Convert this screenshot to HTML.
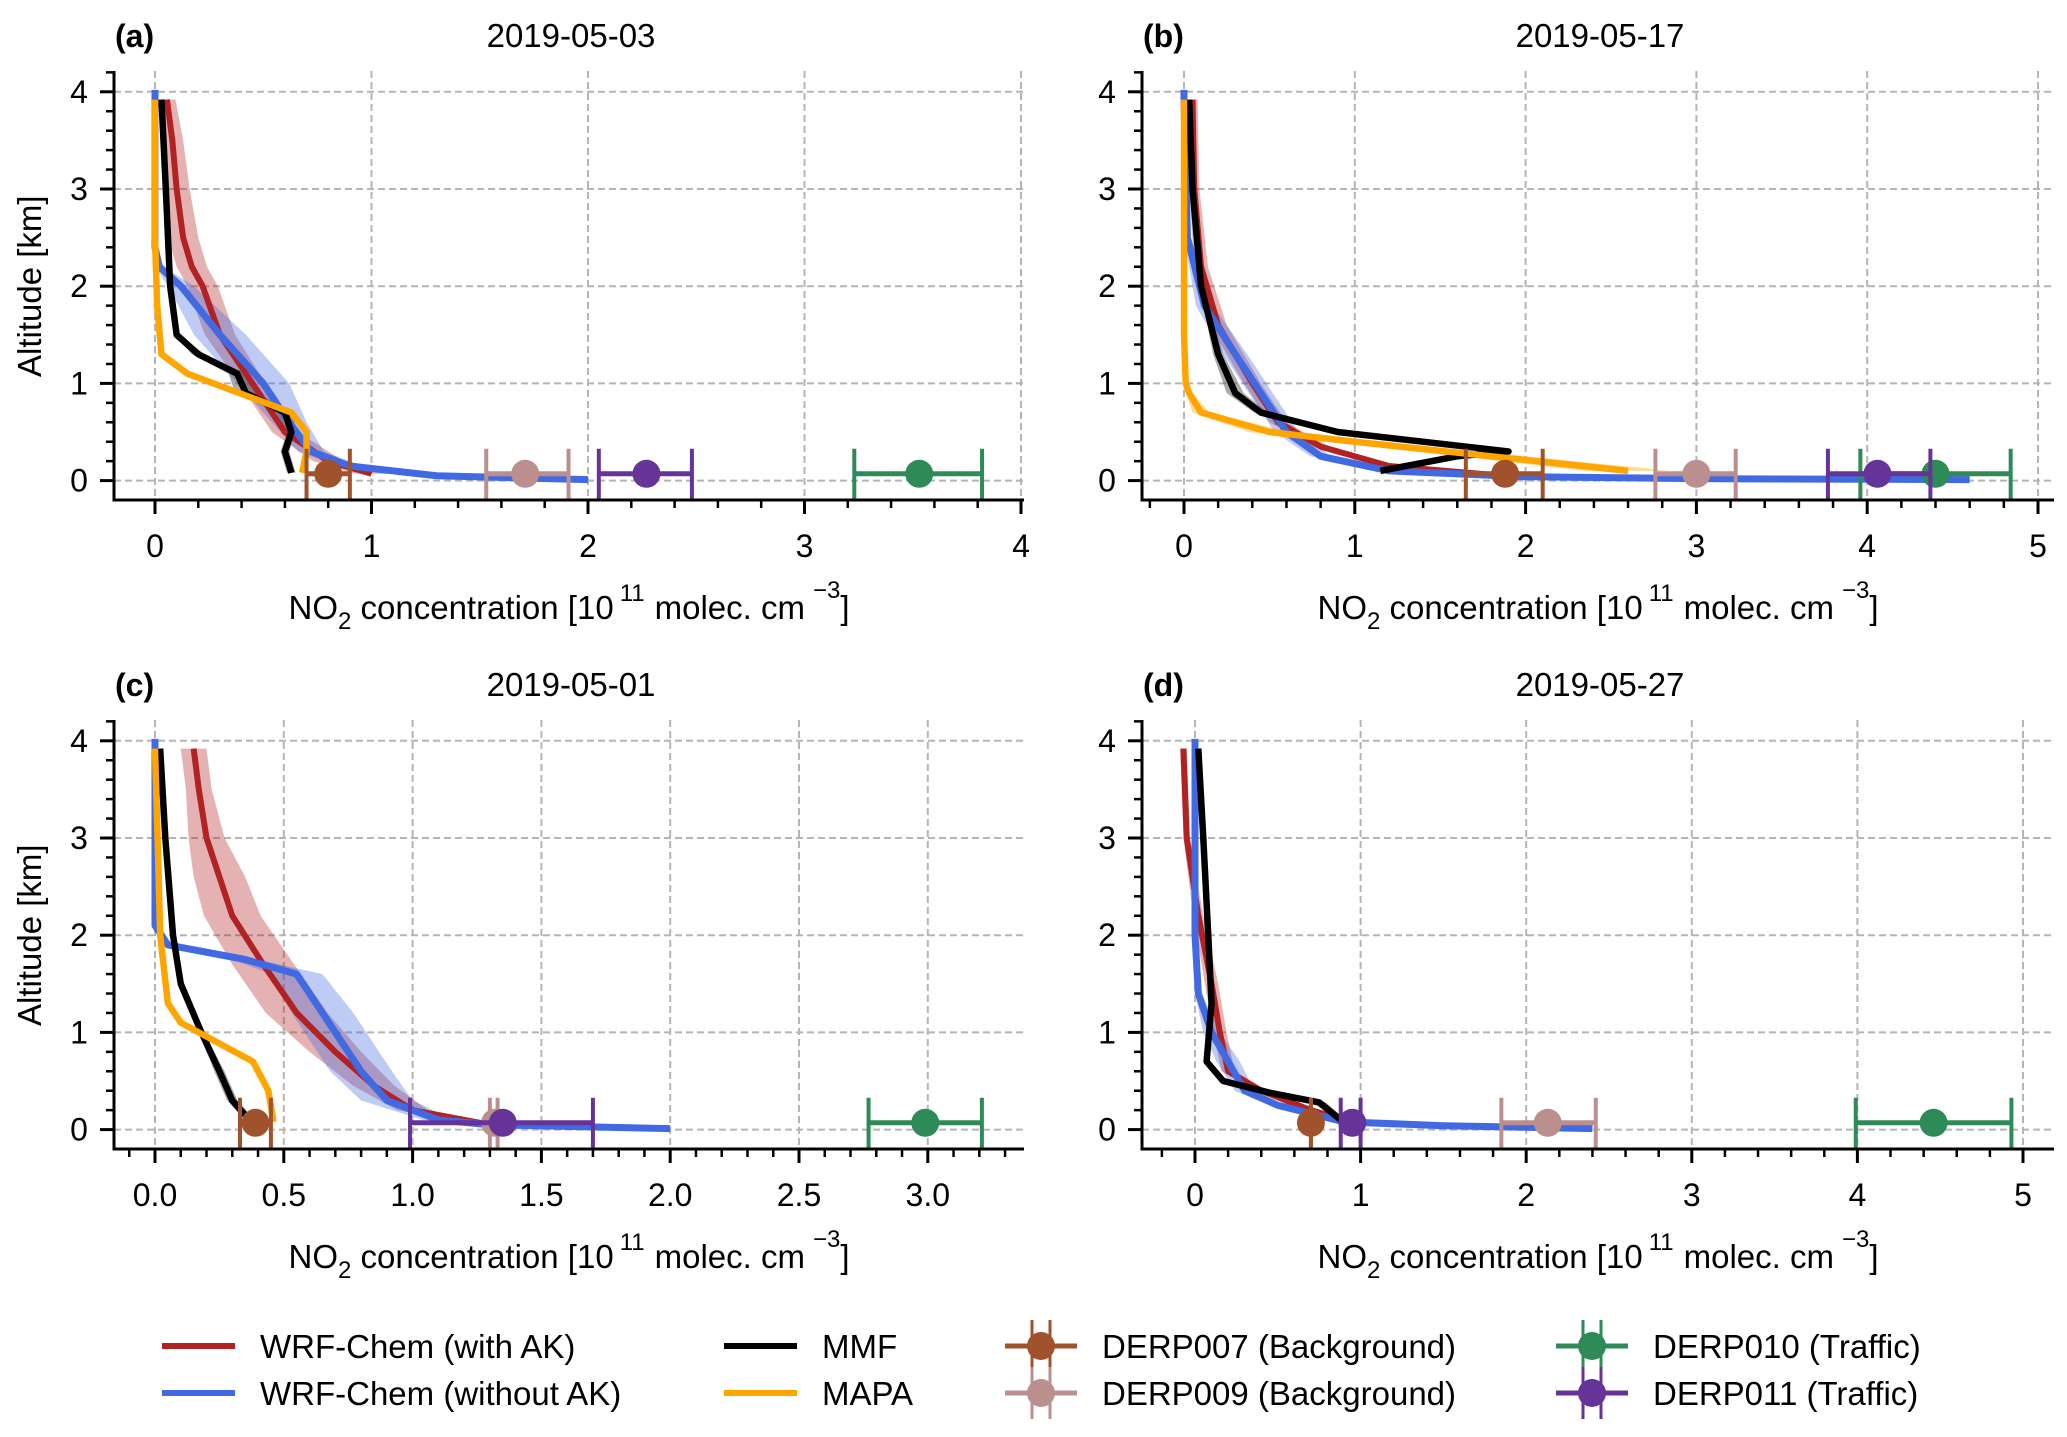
<!DOCTYPE html>
<html><head><meta charset="utf-8"><style>
html,body{margin:0;padding:0;background:#fff}
svg{display:block}
text{font-family:"Liberation Sans",Arial,sans-serif;fill:#000}
</style></head><body>
<svg id="fig" width="2067" height="1437" viewBox="0 0 2067 1437" xmlns="http://www.w3.org/2000/svg"></svg>
<script>
// ---------- data (NO2 in 1e11 molec cm-3, altitude in km) ----------
const stationNames=["DERP007 (Background)","DERP009 (Background)","DERP010 (Traffic)","DERP011 (Traffic)"];
// Panel a 2019-05-03
const aRedX=[0.055,0.08,0.1,0.13,0.17,0.22,0.3,0.45,0.6,0.8,1.0];
const aRedY=[3.92,3.5,3.0,2.5,2.2,2.0,1.5,1.0,0.5,0.2,0.07];
const aRedS=[0.04,0.05,0.06,0.07,0.07,0.07,0.07,0.06,0.06,0.07,0.08];
const aBlueX=[0.0,0.0,0.0,0.02,0.12,0.3,0.5,0.62,0.72,0.9,1.3,2.0];
const aBlueY=[4.02,3.9,2.4,2.2,2.0,1.5,1.0,0.6,0.3,0.15,0.05,0.01];
const aBlueS=[0,0,0,0.02,0.06,0.12,0.12,0.08,0.06,0.06,0.05,0.04];
const aMmfX=[0.03,0.05,0.07,0.1,0.2,0.38,0.42,0.6,0.63,0.6,0.63];
const aMmfY=[3.92,3.0,2.0,1.5,1.3,1.1,0.9,0.7,0.5,0.3,0.08];
const aMmfS=[0,0,0,0.01,0.03,0.04,0.05,0.04,0.02,0.02,0.02];
const aMapaX=[0.0,0.0,0.01,0.03,0.15,0.63,0.7,0.7,0.68];
const aMapaY=[3.92,2.5,1.8,1.3,1.1,0.7,0.5,0.3,0.08];
const aStX=[0.8,1.71,3.53,2.27];
const aStLo=[0.7,1.53,3.23,2.05];
const aStHi=[0.9,1.91,3.82,2.48];
// Panel b 2019-05-17
const bRedX=[0.05,0.06,0.1,0.2,0.4,0.55,0.8,1.2,1.8];
const bRedY=[3.92,3.0,2.2,1.6,1.0,0.6,0.35,0.15,0.06];
const bRedS=[0.03,0.03,0.04,0.05,0.05,0.05,0.05,0.05,0.04];
const bBlueX=[0.0,0.0,0.02,0.12,0.3,0.45,0.6,0.8,1.2,2.0,3.0,4.6];
const bBlueY=[4.02,3.9,2.5,1.8,1.3,0.9,0.5,0.25,0.1,0.04,0.02,0.01];
const bBlueS=[0,0,0.02,0.05,0.07,0.07,0.07,0.06,0.05,0.03,0.02,0.02];
const bMmfX=[0.03,0.05,0.1,0.2,0.3,0.45,0.9,1.9,1.6,1.15];
const bMmfY=[3.92,3.0,2.0,1.3,0.9,0.7,0.5,0.3,0.25,0.1];
const bMmfS=[0,0,0.01,0.03,0.05,0.04,0.03,0.03,0.02,0.02];
const bMapaX=[0.0,0.0,0.01,0.03,0.1,0.5,1.0,1.8,2.6];
const bMapaY=[3.92,1.5,1.0,0.9,0.7,0.5,0.4,0.25,0.1];
const bMapaS=[0,0,0,0.02,0.05,0.12,0.15,0.2,0.25];
const bStX=[1.88,3.0,4.4,4.06];
const bStLo=[1.65,2.76,3.96,3.77];
const bStHi=[2.1,3.23,4.84,4.37];
// Panel c 2019-05-01
const cRedX=[0.15,0.17,0.2,0.25,0.3,0.42,0.55,0.7,0.85,1.0,1.3];
const cRedY=[3.92,3.5,3.0,2.6,2.2,1.7,1.2,0.8,0.45,0.2,0.05];
const cRedS=[0.05,0.05,0.07,0.1,0.11,0.12,0.12,0.1,0.08,0.06,0.03];
const cBlueX=[0.0,0.0,0.0,0.05,0.35,0.55,0.65,0.8,0.9,1.1,1.3,2.0];
const cBlueY=[4.02,3.9,2.1,1.9,1.75,1.6,1.2,0.6,0.3,0.1,0.05,0.01];
const cBlueS=[0,0,0,0.02,0.05,0.1,0.12,0.12,0.1,0.06,0.04,0.03];
const cMmfX=[0.02,0.04,0.07,0.1,0.18,0.25,0.3,0.35];
const cMmfY=[3.92,3.0,2.0,1.5,1.0,0.6,0.3,0.15];
const cMmfS=[0,0,0,0,0.01,0.02,0.02,0.02];
const cMapaX=[0.0,0.01,0.02,0.05,0.1,0.38,0.44,0.46];
const cMapaY=[3.92,3.0,2.0,1.3,1.1,0.7,0.4,0.08];
const cStX=[0.39,1.32,2.99,1.35];
const cStLo=[0.33,1.3,2.77,0.99];
const cStHi=[0.45,1.33,3.21,1.7];
// Panel d 2019-05-27
const dRedX=[-0.07,-0.05,0.02,0.1,0.15,0.2,0.4,0.7,0.9];
const dRedY=[3.92,3.0,2.2,1.5,1.0,0.6,0.4,0.2,0.1];
const dRedS=[0.02,0.02,0.03,0.04,0.04,0.04,0.04,0.04,0.03];
const dBlueX=[0.0,0.0,0.0,0.02,0.1,0.2,0.3,0.5,0.9,1.5,2.4];
const dBlueY=[4.02,3.9,2.0,1.4,1.0,0.7,0.4,0.25,0.08,0.04,0.01];
const dBlueS=[0,0,0,0.02,0.05,0.07,0.06,0.05,0.04,0.03,0.03];
const dMmfX=[0.02,0.05,0.08,0.1,0.07,0.17,0.45,0.75,0.88];
const dMmfY=[3.92,3.0,2.0,1.3,0.7,0.5,0.38,0.28,0.1];
const dMmfS=[0,0,0,0,0,0.01,0.02,0.04,0.03];
const dStX=[0.7,2.13,4.46,0.95];
const dStLo=[0.7,1.85,3.99,0.88];
const dStHi=[0.7,2.42,4.93,1.0];
const xTicksAB=["0","1","2","3","4"];
const xTicksB=["0","1","2","3","4","5"];
const xTicksC=["0.0","0.5","1.0","1.5","2.0","2.5","3.0"];
const yTicks=["0","1","2","3","4"];

// ---------- rendering ----------
const NS="http://www.w3.org/2000/svg";
const svg=document.getElementById('fig');
const RED="#b22222",BLUE="#4169e1",ORANGE="#ffa500";
const stColors=["#a0522d","#bc8f8f","#2e8b57","#663399"];
function el(tag,attrs,parent){const e=document.createElementNS(NS,tag);for(const k in attrs)e.setAttribute(k,attrs[k]);(parent||svg).appendChild(e);return e;}

const panels=[
 {id:"a",title:"2019-05-03",L:114,R:1024,T:71,B:500,x0:155,xs:216.5,xmin:-0.19,xmax:4.02,ticks:xTicksAB,tstep:1,minor:0.2,ylab:true,
  red:[aRedX,aRedY,aRedS],blue:[aBlueX,aBlueY,aBlueS],mmf:[aMmfX,aMmfY,aMmfS],mapa:[aMapaX,aMapaY,null],st:[aStX,aStLo,aStHi]},
 {id:"b",title:"2019-05-17",L:1142,R:2054,T:71,B:500,x0:1184,xs:170.8,xmin:-0.25,xmax:5.09,ticks:xTicksB,tstep:1,minor:0.2,ylab:false,
  red:[bRedX,bRedY,bRedS],blue:[bBlueX,bBlueY,bBlueS],mmf:[bMmfX,bMmfY,bMmfS],mapa:[bMapaX,bMapaY,bMapaS],st:[bStX,bStLo,bStHi]},
 {id:"c",title:"2019-05-01",L:114,R:1024,T:720,B:1149,x0:155,xs:257.6,xmin:-0.16,xmax:3.37,ticks:xTicksC,tstep:0.5,minor:0.1,ylab:true,
  red:[cRedX,cRedY,cRedS],blue:[cBlueX,cBlueY,cBlueS],mmf:[cMmfX,cMmfY,cMmfS],mapa:[cMapaX,cMapaY,null],st:[cStX,cStLo,cStHi]},
 {id:"d",title:"2019-05-27",L:1142,R:2054,T:720,B:1149,x0:1195,xs:165.6,xmin:-0.32,xmax:5.19,ticks:xTicksB,tstep:1,minor:0.2,ylab:false,
  red:[dRedX,dRedY,dRedS],blue:[dBlueX,dBlueY,dBlueS],mmf:[dMmfX,dMmfY,dMmfS],mapa:null,st:[dStX,dStLo,dStHi]}
];

panels.forEach(p=>{
  const y0=p.B-19.4, ys=97.2;
  const X=v=>p.x0+v*p.xs, Y=v=>y0-v*ys;
  const g=el('g',{});
  
  
  const cp=el('clipPath',{id:'clip'+p.id},g);
  el('rect',{x:p.L,y:p.T,width:p.R-p.L,height:p.B-p.T},cp);
  const grid=el('g',{stroke:"#b5b5b5","stroke-width":2,"stroke-dasharray":"7,4"},g);
  
  
  yTicks.forEach(t=>{el('line',{x1:p.L,x2:p.R,y1:Y(+t),y2:Y(+t)},grid);});
  p.ticks.forEach(t=>{el('line',{x1:X(+t),x2:X(+t),y1:p.T,y2:p.B},grid);});
  const plot=el('g',{"clip-path":"url(#clip"+p.id+")"},g);
  
  
  function band(arr,color,op,name){
    const [xs,yv,sp]=arr; if(!sp) return;
    let pts=[];
    for(let i=0;i<xs.length;i++)pts.push(X(xs[i]-sp[i])+","+Y(yv[i]));
    for(let i=xs.length-1;i>=0;i--)pts.push(X(xs[i]+sp[i])+","+Y(yv[i]));
    const b=el('polygon',{points:pts.join(" "),fill:color,"fill-opacity":op,stroke:"none"},plot);
    
    
  }
  function line(arr,color,w,name){
    const [xs,yv]=arr;
    const pts=xs.map((v,i)=>X(v)+","+Y(yv[i])).join(" ");
    const l=el('polyline',{points:pts,fill:"none",stroke:color,"stroke-width":w,"stroke-linejoin":"round"},plot);
    
    
  }
  band(p.red,RED,0.35,'wrf-ak-band');
  band(p.blue,BLUE,0.35,'wrf-noak-band');
  band(p.mmf,"#555",0.5,'mmf-band');
  if(p.mapa)band(p.mapa,ORANGE,0.4,'mapa-band');
  line(p.red,RED,6,'wrf-ak-line');
  line(p.blue,BLUE,7,'wrf-noak-line');
  line(p.mmf,"#000",6.5,'mmf-line');
  if(p.mapa)line(p.mapa,ORANGE,6.5,'mapa-line');
  const [sx,slo,shi]=p.st; const sy=Y(0.07);
  sx.forEach((v,i)=>{
    const sg=el('g',{stroke:stColors[i],"stroke-width":4},plot);
    
    
    el('line',{x1:X(slo[i]),x2:X(shi[i]),y1:sy,y2:sy,"stroke-width":5},sg);
    el('line',{x1:X(slo[i]),x2:X(slo[i]),y1:sy-25,y2:sy+25},sg);
    el('line',{x1:X(shi[i]),x2:X(shi[i]),y1:sy-25,y2:sy+25},sg);
    el('circle',{cx:X(v),cy:sy,r:14,fill:stColors[i],stroke:"none"},sg);
  });
  const ax=el('g',{stroke:"#000"},g);
  
  
  el('line',{x1:p.L,x2:p.L,y1:p.T,y2:p.B+1.5,"stroke-width":3},ax);
  el('line',{x1:p.L-1.5,x2:p.R,y1:p.B,y2:p.B,"stroke-width":3},ax);
  for(let k=-1;k<=21;k++){const v=k*0.2;const yy=Y(v);if(yy<p.T||yy>p.B)continue;
    const maj=Math.abs(v-Math.round(v))<1e-6;
    el('line',{x1:p.L-(maj?14:8),x2:p.L,y1:yy,y2:yy,"stroke-width":maj?3:2.5},ax);}
  for(let k=Math.ceil(p.xmin/p.minor);k*p.minor<=p.xmax+1e-9;k++){const v=k*p.minor;const xx=X(v);if(xx<p.L||xx>p.R)continue;
    const maj=Math.abs(v/p.tstep-Math.round(v/p.tstep))<1e-6;
    el('line',{x1:xx,x2:xx,y1:p.B,y2:p.B+(maj?14:8),"stroke-width":maj?3:2.5},ax);}
  yTicks.forEach(t=>{const tx=el('text',{x:p.L-35,y:Y(+t)+11,"font-size":32,"text-anchor":"middle"},g);tx.textContent=t;
    });
  p.ticks.forEach(t=>{const tx=el('text',{x:X(+t),y:p.B+57,"font-size":32,"text-anchor":"middle"},g);tx.textContent=t;
    });
  const lab=el('text',{x:p.L+1,y:p.T-24,"font-size":32,"font-weight":"bold"},g);lab.textContent="("+p.id+")";
  
  const ti=el('text',{x:(p.L+p.R)/2+2,y:p.T-24,"font-size":33,"text-anchor":"middle"},g);ti.textContent=p.title;
  
  const xl=el('text',{x:(p.L+p.R)/2,y:p.T+548,"font-size":33,"text-anchor":"middle"},g);
  xl.innerHTML='NO<tspan dy="10" font-size="24">2</tspan><tspan dy="-10"> concentration [10</tspan><tspan dy="-18" font-size="24" dx="6">11</tspan><tspan dy="18" dx="10">molec. cm</tspan><tspan dy="-21" font-size="24" dx="8">−3</tspan><tspan dy="21">]</tspan>';
  
  if(p.ylab){const yl=el('text',{x:0,y:0,"font-size":33,"text-anchor":"middle",transform:"translate(41,"+Y(2)+") rotate(-90)"},g);
    yl.textContent="Altitude [km]";}
});

const leg=el('g',{});


const legLines=[["WRF-Chem (with AK)",RED,162,1346],["WRF-Chem (without AK)",BLUE,162,1393],["MMF","#000",724,1346],["MAPA",ORANGE,724,1393]];
legLines.forEach(([t,c,x,y])=>{
  const e=el('g',{},leg);
  
  
  el('line',{x1:x,x2:x+73,y1:y,y2:y,stroke:c,"stroke-width":6},e);
  const tx=el('text',{x:x+98,y:y+12,"font-size":33},e);tx.textContent=t;
});
const legSt=[[0,1041,1346],[1,1041,1393],[2,1592,1346],[3,1592,1393]];
legSt.forEach(([i,x,y])=>{
  const e=el('g',{},leg);
  
  
  const c=stColors[i];
  el('line',{x1:x-36,x2:x+36,y1:y,y2:y,stroke:c,"stroke-width":5},e);
  el('line',{x1:x-9,x2:x-9,y1:y-26,y2:y+26,stroke:c,"stroke-width":3},e);
  el('line',{x1:x+9,x2:x+9,y1:y-26,y2:y+26,stroke:c,"stroke-width":3},e);
  el('circle',{cx:x,cy:y,r:14,fill:c},e);
  const tx=el('text',{x:x+61,y:y+12,"font-size":33},e);tx.textContent=stationNames[i];
});
</script>
</body></html>
